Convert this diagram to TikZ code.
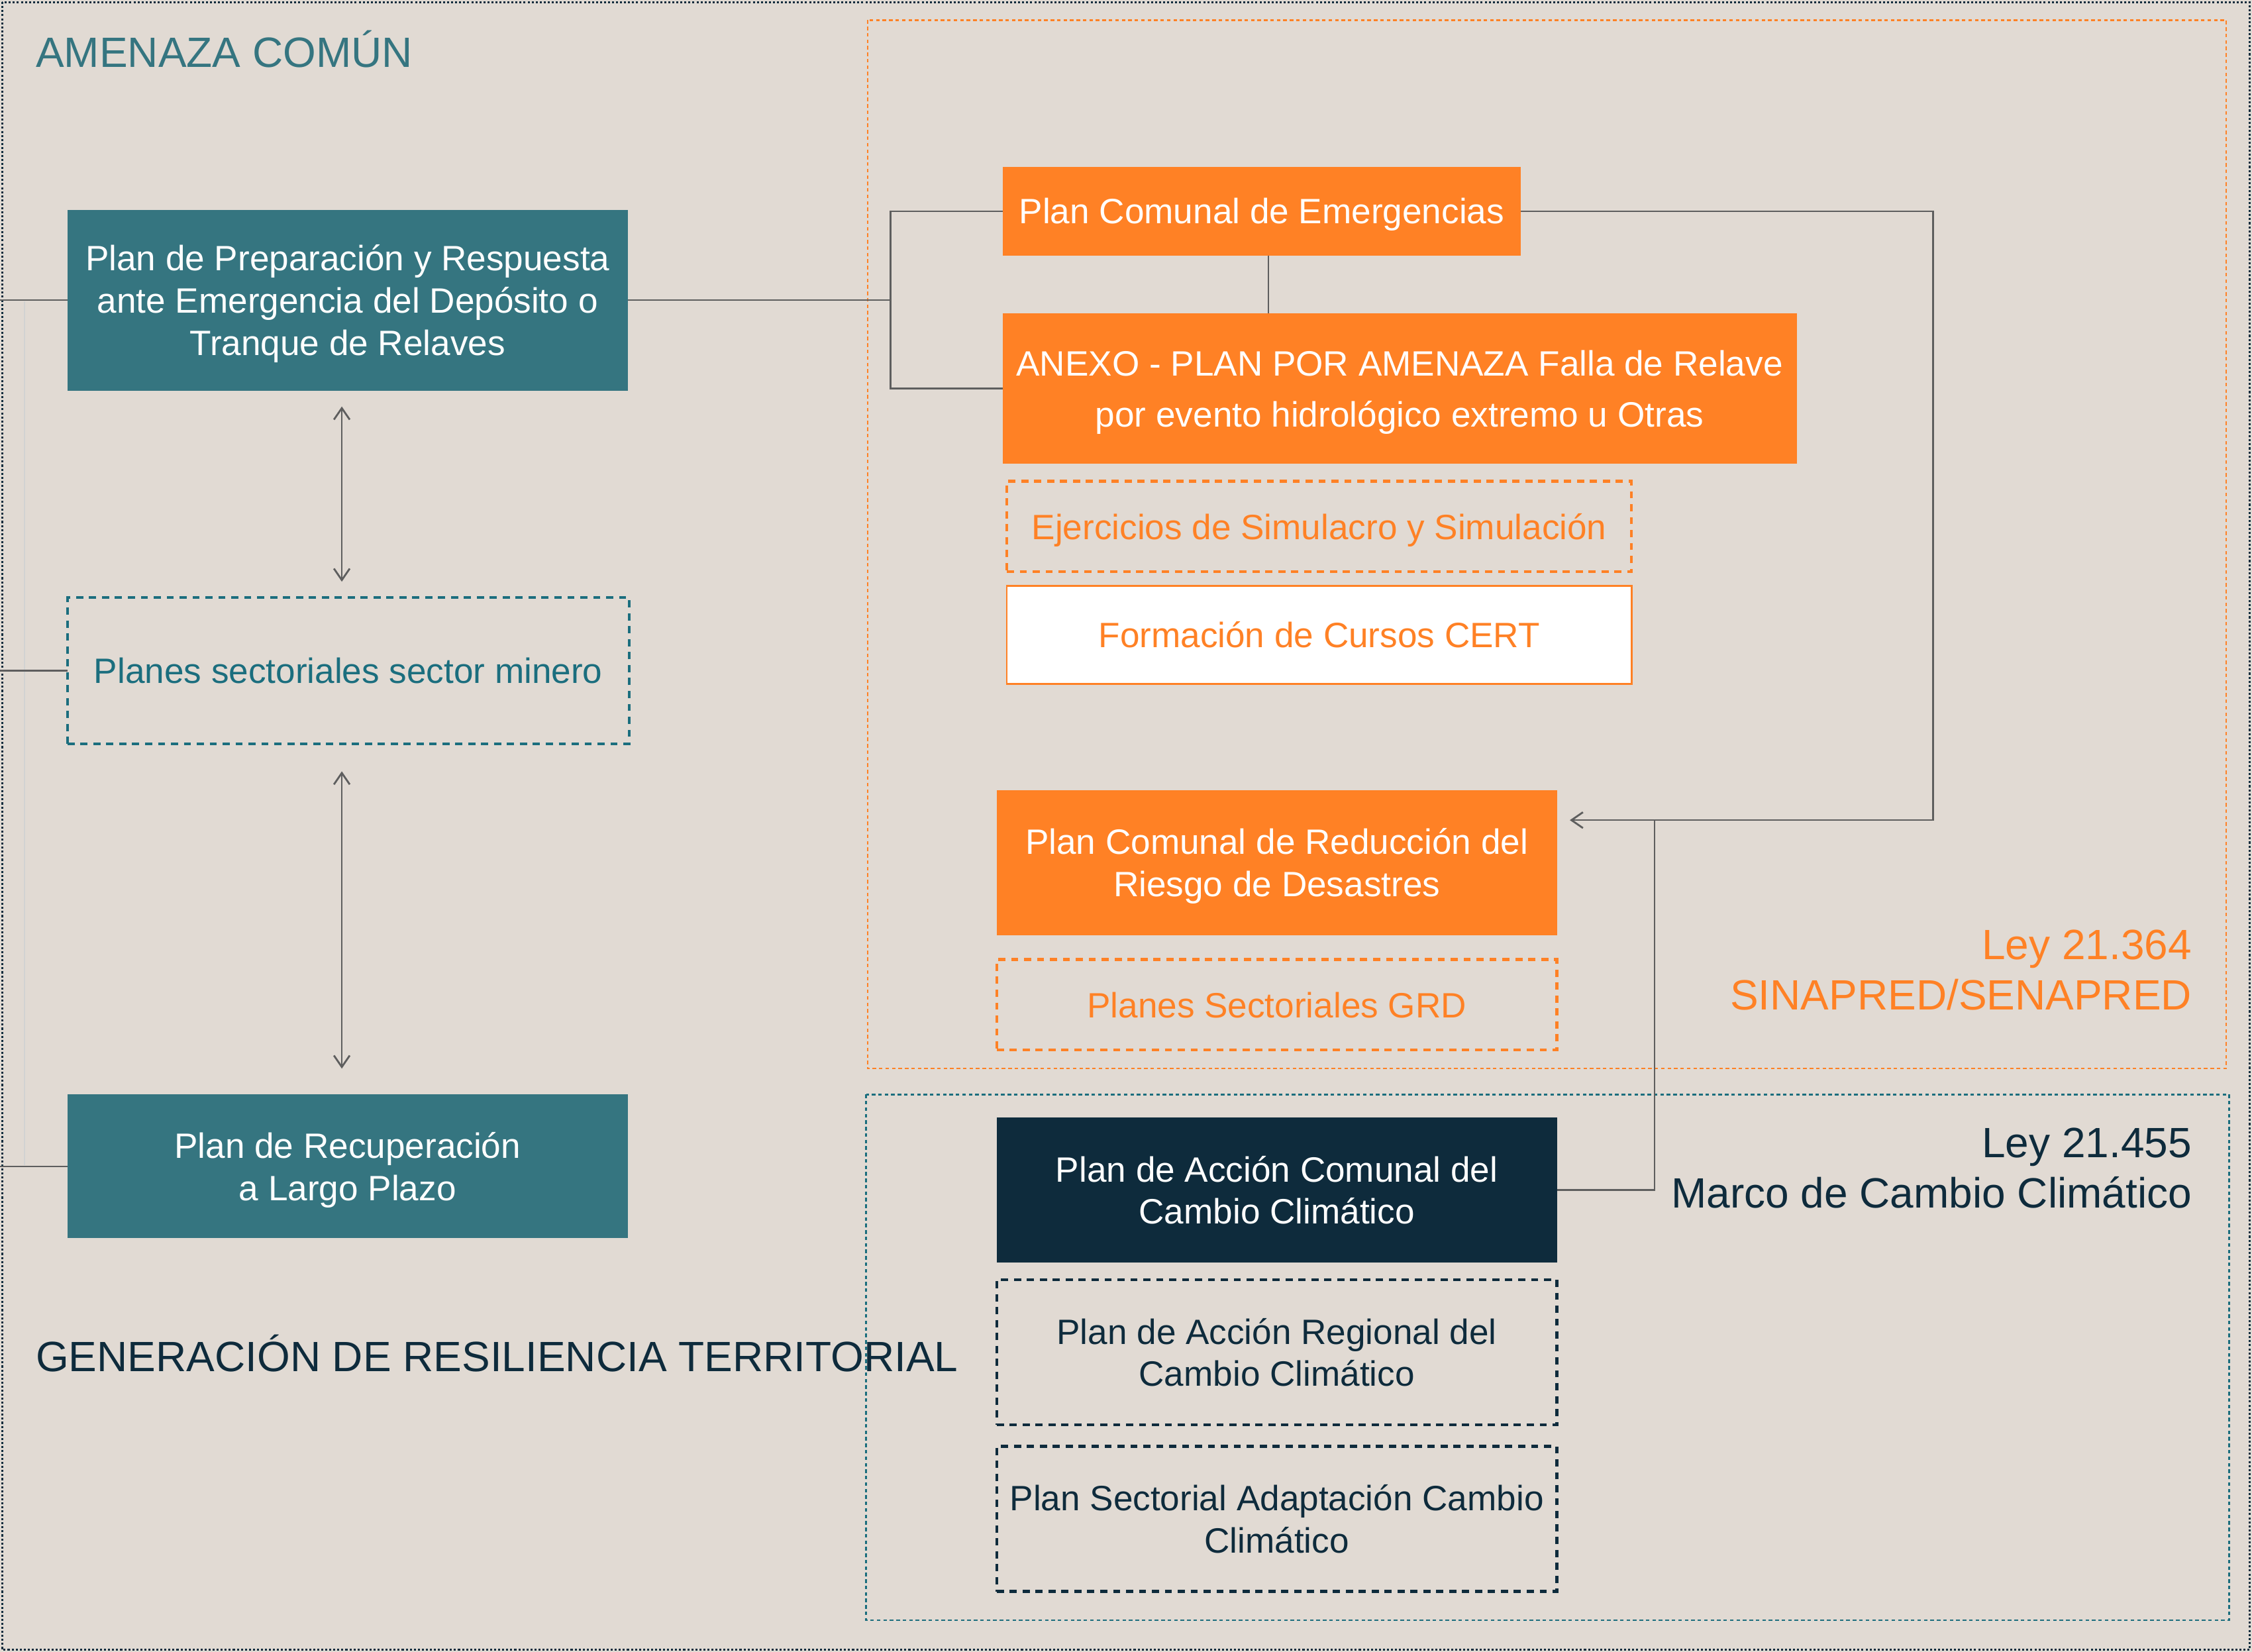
\documentclass[tikz,border=0pt]{standalone}
\usepackage{fontspec}
\setmainfont{Liberation Sans}
\usetikzlibrary{arrows.meta}
\definecolor{bgc}{HTML}{E1DAD3}
\definecolor{tealbox}{HTML}{357580}
\definecolor{tealtxt}{HTML}{1B6E7E}
\definecolor{orng}{HTML}{FF8125}
\definecolor{navy}{HTML}{0E2B3C}
\definecolor{conn}{HTML}{5E5E5E}
\definecolor{lightln}{HTML}{D2D2D2}
\tikzset{
  x=1pt,y=-1pt,
  every node/.style={inner sep=0pt,outer sep=0pt,font=\fontsize{24.5}{29.4}\selectfont,align=center,text depth=0pt},
  tealfill/.style={fill=tealbox,text=white},
  orfill/.style={fill=orng,text=white},
  navyfill/.style={fill=navy,text=white},
  dashbox/.style={draw=#1,text=#1,line width=2pt,dash pattern=on 5pt off 4pt},
  conline/.style={draw=conn,line width=1.1pt},
  arr/.style={conline,-{Straight Barb[length=8pt,width=11pt,line width=1.3pt]}},
  darr/.style={conline,line width=1.2pt,{Straight Barb[length=8pt,width=11pt,line width=1.3pt]}-{Straight Barb[length=8pt,width=11pt,line width=1.3pt]}},
  bigtxt/.style={font=\fontsize{29.5}{35}\selectfont},
}
\begin{document}
\begin{tikzpicture}
\fill[bgc] (0,0) rectangle (1568,1150);
\useasboundingbox (0,0) rectangle (1568,1150);
% frames
\draw[navy,line width=1.3pt,dash pattern=on 1.4pt off 1.4pt] (1.5,1.5) rectangle (1566.5,1148.5);
\draw[orng,line width=1.1pt,dash pattern=on 2.5pt off 2pt] (604,14) rectangle (1550,744);
\draw[tealtxt,line width=1.1pt,dash pattern=on 2.5pt off 2pt] (603,762) rectangle (1552,1128);

% titles
\node[bigtxt,text=tealbox,anchor=base west] (t1) at (25,47) {AMENAZA COMÚN};
\node[bigtxt,text=navy,anchor=base west] (t2) at (25,955) {GENERACIÓN DE RESILIENCIA TERRITORIAL};
\node[bigtxt,text=orng,anchor=base east] (ley1a) at (1526,668) {Ley 21.364};
\node[bigtxt,text=orng,anchor=base east] (ley1b) at (1526,703) {SINAPRED/SENAPRED};
\node[bigtxt,text=navy,anchor=base east] (ley2a) at (1526,806) {Ley 21.455};
\node[bigtxt,text=navy,anchor=base east] (ley2b) at (1526,841) {Marco de Cambio Climático};

% left column
\node[tealfill,minimum width=390pt,minimum height=126pt] (b1) at (242,209)
  {Plan de Preparación y Respuesta\\ante Emergencia del Depósito o\\Tranque de Relaves};
\node[dashbox=tealtxt,minimum width=391pt,minimum height=102pt] (b2) at (242.5,467)
  {Planes sectoriales sector minero};
\node[tealfill,minimum width=390pt,minimum height=100pt] (b3) at (242,812)
  {Plan de Recuperación\\a Largo Plazo};

% SINAPRED column
\node[orfill,minimum width=361pt,minimum height=62pt] (pce) at (878.5,147) {Plan Comunal de Emergencias};
\node[orfill,minimum width=553pt,minimum height=105pt,font=\fontsize{24.5}{35.4}\selectfont] (anexo) at (974.5,270.5)
  {ANEXO - PLAN POR AMENAZA Falla de Relave\\por evento hidrológico extremo u Otras};
\node[dashbox=orng,minimum width=435pt,minimum height=63pt] (ejer) at (918.5,366.5) {Ejercicios de Simulacro y Simulación};
\node[draw=orng,fill=white,text=orng,line width=1.3pt,minimum width=435pt,minimum height=68pt] (cert) at (918.5,442) {Formación de Cursos CERT};
\node[orfill,minimum width=390pt,minimum height=101pt] (pcrrd) at (889,600.5)
  {Plan Comunal de Reducción del\\Riesgo de Desastres};
\node[dashbox=orng,minimum width=390pt,minimum height=63pt] (grd) at (889,699.5) {Planes Sectoriales GRD};

% climate column
\node[navyfill,minimum width=390pt,minimum height=101pt] (paccc) at (889,828.5)
  {Plan de Acción Comunal del\\Cambio Climático};
\node[dashbox=navy,minimum width=390pt,minimum height=101pt] (parcc) at (889,941.5)
  {Plan de Acción Regional del\\Cambio Climático};
\node[dashbox=navy,minimum width=390pt,minimum height=101pt] (psacc) at (889,1057.5)
  {Plan Sectorial Adaptación Cambio\\Climático};

% connectors
\coordinate (l1) at (0,209);
\coordinate (l2) at (0,467);
\coordinate (l3) at (0,812);
\coordinate (lt) at (17,210);
\coordinate (lb) at (17,811);
\draw[lightln,line width=1.2pt] (lt) -- (lb);
\draw[conline] (l1) -- (b1.west);
\draw[conline] (l2) -- (b2.west);
\draw[conline] (l3) -- (b3.west);

\draw[darr,shorten <=11pt,shorten >=11pt] ([xshift=-4pt]b1.south) -- ([xshift=-4.5pt]b2.north);
\draw[darr,shorten <=19pt,shorten >=18pt] ([xshift=-4.5pt]b2.south) -- ([xshift=-4pt]b3.north);

\coordinate (brk) at (620,209);
\draw[conline] (b1.east) -- (brk);
\draw[conline] (pce.west) -| (brk) |- (anexo.west);
\draw[conline] ([xshift=4.5pt]pce.south) -- ([xshift=4.5pt]pce.south |- anexo.north);

\coordinate (rc) at (1346,571);
\coordinate (jn) at (1152,571);
\draw[arr] (pce.east) -| (rc) -- ([xshift=9pt]pcrrd.east |- rc);
\draw[conline] (paccc.east) -| (jn);
\end{tikzpicture}
\end{document}
